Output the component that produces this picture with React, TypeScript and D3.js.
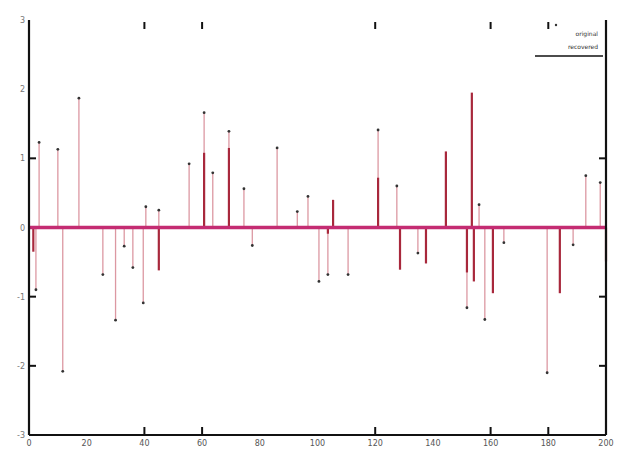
import React, { useEffect, useRef } from "react";
import * as d3 from "d3";

// sample index / amplitude
const origX = [2.4, 3.5, 10, 11.7, 17.3, 25.6, 30, 33, 36, 39.6, 40.5, 45, 55.5, 60.7, 63.7, 69.3, 74.5, 77.4, 86, 93, 96.7, 100.5, 103.6, 110.6, 121, 127.5, 134.8, 151.8, 156, 158, 164.6, 179.6, 188.6, 193, 198];
const origY = [-0.9, 1.23, 1.13, -2.08, 1.87, -0.68, -1.34, -0.27, -0.58, -1.09, 0.3, 0.25, 0.92, 1.66, 0.79, 1.39, 0.56, -0.26, 1.15, 0.23, 0.45, -0.78, -0.68, -0.68, 1.41, 0.6, -0.37, -1.16, 0.33, -1.33, -0.22, -2.1, -0.25, 0.75, 0.65];

const recX = [1.5, 45, 60.7, 69.3, 103.6, 105.4, 121, 128.6, 137.6, 144.5, 151.8, 153.5, 154.2, 160.8, 184, 200];
const recY = [-0.35, -0.62, 1.08, 1.15, -0.09, 0.4, 0.72, -0.61, -0.52, 1.1, -0.65, 1.95, -0.78, -0.95, -0.95, -0.49];

const xTicks = [0, 20, 40, 60, 80, 100, 120, 140, 160, 180, 200];
const yTicks = [-3, -2, -1, 0, 1, 2, 3];
// only these tick marks show in the frame
const xTickMarks = [40, 60, 120, 160, 180];
const yTickMarks = [-2, -1, 1];
const legendLabels = ["original", "recovered"];

const W = 626;
const H = 450;

export default function App() {
  const ref = useRef<SVGSVGElement>(null);

  useEffect(() => {
    const svg = d3.select(ref.current);
    svg.selectAll("*").remove();

    const margin = { left: 29, right: 20, top: 20, bottom: 15 };
    const x = d3.scaleLinear().domain([0, 200]).range([margin.left, W - margin.right]);
    const y = d3.scaleLinear().domain([-3, 3]).range([H - margin.bottom, margin.top]);

    const g = svg.append("g");

    // light stems (original)
    const orig = origX.map((v, i) => ({ x: v, y: origY[i] }));
    g.selectAll("line.orig")
      .data(orig)
      .enter()
      .append("line")
      .attr("x1", d => x(d.x))
      .attr("x2", d => x(d.x))
      .attr("y1", y(0))
      .attr("y2", d => y(d.y))
      .attr("stroke", "#dc98a2")
      .attr("stroke-width", 1.3);

    // dark stems (recovered)
    const rec = recX.map((v, i) => ({ x: v, y: recY[i] }));
    g.selectAll("line.rec")
      .data(rec)
      .enter()
      .append("line")
      .attr("x1", d => x(d.x))
      .attr("x2", d => x(d.x))
      .attr("y1", y(0))
      .attr("y2", d => y(d.y))
      .attr("stroke", "#a8283c")
      .attr("stroke-width", 2.2);

    g.selectAll("circle.orig")
      .data(orig)
      .enter()
      .append("circle")
      .attr("cx", d => x(d.x))
      .attr("cy", d => y(d.y))
      .attr("r", 1.4)
      .attr("fill", "#333");

    // baseline
    g.append("line")
      .attr("x1", x(0))
      .attr("x2", x(200))
      .attr("y1", y(0))
      .attr("y2", y(0))
      .attr("stroke", "#c42c72")
      .attr("stroke-width", 3.5);

    // axes frame: left, right, bottom
    const frame = svg.append("g").attr("stroke", "#111").attr("stroke-width", 2.2);
    frame.append("line").attr("x1", x(0)).attr("x2", x(0)).attr("y1", y(3)).attr("y2", y(-3));
    frame.append("line").attr("x1", x(200)).attr("x2", x(200)).attr("y1", y(3)).attr("y2", y(-3));
    frame.append("line").attr("x1", x(0)).attr("x2", x(200)).attr("y1", y(-3)).attr("y2", y(-3));

    // inward ticks
    const ticks = svg.append("g").attr("stroke", "#111").attr("stroke-width", 2);
    xTickMarks.forEach(t => {
      ticks.append("line").attr("x1", x(t)).attr("x2", x(t)).attr("y1", y(-3)).attr("y2", y(-3) - 8);
      ticks.append("line").attr("x1", x(t)).attr("x2", x(t)).attr("y1", y(3) + 2).attr("y2", y(3) + 9);
    });
    yTickMarks.forEach(t => {
      ticks.append("line").attr("x1", x(0)).attr("x2", x(0) + 7).attr("y1", y(t)).attr("y2", y(t));
      ticks.append("line").attr("x1", x(200)).attr("x2", x(200) - 7).attr("y1", y(t)).attr("y2", y(t));
    });

    // tick labels
    svg.append("g")
      .selectAll("text")
      .data(xTicks)
      .enter()
      .append("text")
      .attr("x", d => x(d))
      .attr("y", H - 4)
      .attr("text-anchor", "middle")
      .style("font-family", "DejaVu Sans")
      .style("font-size", "8px")
      .style("fill", "#555")
      .text(d => d);

    svg.append("g")
      .selectAll("text")
      .data(yTicks)
      .enter()
      .append("text")
      .attr("x", x(0) - 4)
      .attr("y", d => y(d) + 3)
      .attr("text-anchor", "end")
      .style("font-family", "DejaVu Sans")
      .style("font-size", "8px")
      .style("fill", "#777")
      .text(d => d);

    // legend
    const leg = svg.append("g").style("font-family", "DejaVu Sans").style("font-size", "6px").style("fill", "#333");
    legendLabels.forEach((l, i) => {
      leg.append("text").attr("x", 598).attr("y", 36 + i * 13).attr("text-anchor", "end").text(l);
    });
    leg.append("circle").attr("cx", 556).attr("cy", 25).attr("r", 1.2).attr("fill", "#333");
    leg.append("line").attr("x1", 535).attr("x2", 603).attr("y1", 56).attr("y2", 56).attr("stroke", "#111").attr("stroke-width", 1.5);
  }, []);

  return (
    <svg
      ref={ref}
      width={W}
      height={H}
      style={{ position: "absolute", left: 0, top: 0, background: "#fff" }}
    />
  );
}
